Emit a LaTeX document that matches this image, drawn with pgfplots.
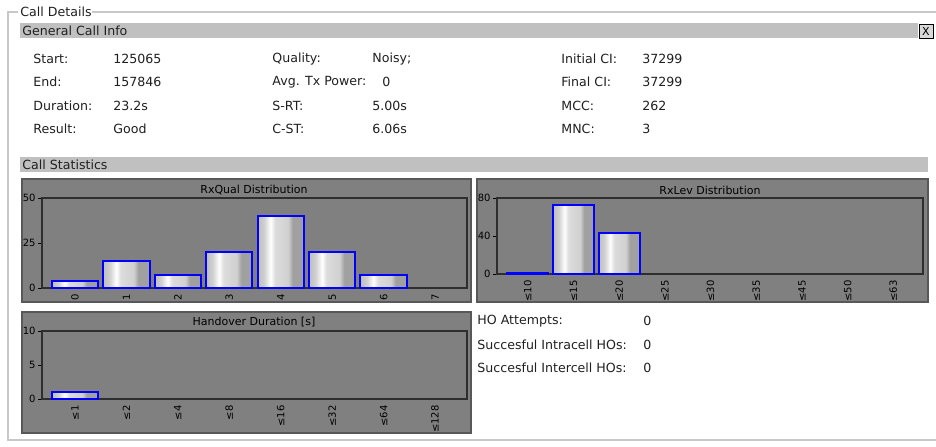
\documentclass[border=0pt]{standalone}
\usepackage{fontspec}
\setmainfont{DejaVu Sans}
\usepackage{pgfplots}
\pgfplotsset{compat=1.18}

\definecolor{panel}{HTML}{808080}
\definecolor{frame}{HTML}{2E2E2E}
\definecolor{hdr}{HTML}{C0C0C0}
\definecolor{grp}{HTML}{C8C8C8}
\definecolor{txt}{HTML}{202020}
\definecolor{b1}{HTML}{BEBEBE}
\definecolor{b2}{HTML}{D0D0D0}
\definecolor{b3}{HTML}{DCDCDC}
\definecolor{b4}{HTML}{A0A0A0}

% shading: the bar maps to 25bp..75bp
\pgfdeclarehorizontalshading{barshade}{100bp}{color(0bp)=(b1); color(25bp)=(b1);
  color(32bp)=(b2); color(39bp)=(white); color(44bp)=(b3); color(58bp)=(b2);
  color(63bp)=(b4); color(75bp)=(b4); color(100bp)=(b4)}

\pgfplotsset{
  panelaxis/.style={
    scale only axis, anchor=south west,
    axis background/.style={fill=panel},
    axis line style={draw=frame, line width=0.8pt},
    ymin=0, tick align=outside, major tick length=2pt,
    xtick style={draw=none},
    ytick style={draw=black, line width=0.4pt},
    tick label style={font=\fontsize{5}{5}\selectfont, text=black},
    xticklabel style={rotate=90, anchor=east, inner sep=1pt},
    yticklabel style={inner sep=1pt},
    /pgf/number format/assume math mode=true,
    ytick pos=left, xtick pos=bottom,
  },
  hbar/.style={ybar, bar shift=0pt, bar width=0.9, draw=blue, line width=1pt,
    shade, shading=barshade},
}

\tikzset{
  ui/.style={anchor=west, inner sep=0pt, font=\fontsize{6.3}{7}\selectfont, text=txt},
  ttl/.style={inner sep=0pt, font=\fontsize{5.5}{6}\selectfont, text=black},
}

\begin{document}
\begin{tikzpicture}
\useasboundingbox (0,0) rectangle (468pt,-223pt);
\fill[white] (0,0) rectangle (468pt,-223pt);

% group box
\draw[grp, line width=0.6pt] (9pt,-6pt) -- (4pt,-6pt) -- (4pt,-220pt) -- (470pt,-220pt);
\draw[grp, line width=0.6pt] (46pt,-6pt) -- (470pt,-6pt);
\node[ui] at (10pt,-6pt) {Call Details};

% General Call Info
\fill[hdr] (10pt,-11.5pt) rectangle (459pt,-19pt);
\node[ui] at (11pt,-15.25pt) {General Call Info};
\draw[black, fill=hdr!60, line width=0.5pt] (459.5pt,-12pt) rectangle (466.5pt,-19pt);
\node[ttl] at (463pt,-15.5pt) {X};

\node[ui] at (16.5pt,-29.5pt) {Start:};
\node[ui] at (56.5pt,-29.5pt) {125065};
\node[ui] at (16.5pt,-41pt) {End:};
\node[ui] at (56.5pt,-41pt) {157846};
\node[ui] at (16.5pt,-53pt) {Duration:};
\node[ui] at (56.5pt,-53pt) {23.2s};
\node[ui] at (16.5pt,-64.5pt) {Result:};
\node[ui] at (56.5pt,-64.5pt) {Good};

\node[ui] at (136pt,-29.5pt) {Quality:};
\node[ui] at (186pt,-29.5pt) {Noisy;};
\node[ui] at (136pt,-41pt) {Avg. Tx Power:};
\node[ui] at (191pt,-41pt) {0};
\node[ui] at (136pt,-53pt) {S-RT:};
\node[ui] at (186pt,-53pt) {5.00s};
\node[ui] at (136pt,-64.5pt) {C-ST:};
\node[ui] at (186pt,-64.5pt) {6.06s};

\node[ui] at (280.5pt,-29.5pt) {Initial CI:};
\node[ui] at (321pt,-29.5pt) {37299};
\node[ui] at (280.5pt,-41pt) {Final CI:};
\node[ui] at (321pt,-41pt) {37299};
\node[ui] at (280.5pt,-53pt) {MCC:};
\node[ui] at (321pt,-53pt) {262};
\node[ui] at (280.5pt,-64.5pt) {MNC:};
\node[ui] at (321pt,-64.5pt) {3};

% Call Statistics
\fill[hdr] (10pt,-78.5pt) rectangle (464pt,-86pt);
\node[ui] at (11pt,-82.25pt) {Call Statistics};

% panels
\draw[fill=panel, draw=frame!80, line width=0.6pt] (11pt,-89.5pt) rectangle (235.5pt,-151pt);
\draw[fill=panel, draw=frame!80, line width=0.6pt] (238.5pt,-89.5pt) rectangle (464pt,-151pt);
\draw[fill=panel, draw=frame!80, line width=0.6pt] (11pt,-156pt) rectangle (235.5pt,-216.5pt);
\node[ttl] at (127pt,-95pt) {RxQual Distribution};
\node[ttl] at (355pt,-95pt) {RxLev Distribution};
\node[ttl] at (127pt,-161pt) {Handover Duration [s]};

% HO counters
\node[ui] at (238.5pt,-160.5pt) {HO Attempts:};
\node[ui] at (321.5pt,-160.5pt) {0};
\node[ui] at (238.5pt,-172.5pt) {Succesful Intracell HOs:};
\node[ui] at (321.5pt,-172.5pt) {0};
\node[ui] at (238.5pt,-184pt) {Succesful Intercell HOs:};
\node[ui] at (321.5pt,-184pt) {0};

% RxQual Distribution
\begin{axis}[panelaxis, at={(21pt,-144pt)}, width=212.5pt, height=45pt,
  xmin=-0.64, xmax=7.62, ymax=50, ytick={0,25,50},
  xtick={0,...,7}, xticklabels={0,1,2,3,4,5,6,7}]
\addplot[hbar] coordinates {(0,4)};
\addplot[hbar] coordinates {(1,15)};
\addplot[hbar] coordinates {(2,7)};
\addplot[hbar] coordinates {(3,20)};
\addplot[hbar] coordinates {(4,40)};
\addplot[hbar] coordinates {(5,20)};
\addplot[hbar] coordinates {(6,7)};
\end{axis}

% RxLev Distribution
\begin{axis}[panelaxis, at={(248.5pt,-137pt)}, width=213pt, height=38pt,
  xmin=-0.675, xmax=8.65, ymax=80, ytick={0,40,80},
  xtick={0,...,8}, xticklabels={≤10,≤15,≤20,≤25,≤30,≤35,≤45,≤50,≤63}]
\addplot[hbar] coordinates {(0,1)};
\addplot[hbar] coordinates {(1,73)};
\addplot[hbar] coordinates {(2,43)};
\end{axis}

% Handover Duration
\begin{axis}[panelaxis, at={(21pt,-199.5pt)}, width=212.5pt, height=34pt,
  xmin=-0.64, xmax=7.62, ymax=10, ytick={0,5,10},
  xtick={0,...,7}, xticklabels={≤1,≤2,≤4,≤8,≤16,≤32,≤64,≤128}]
\addplot[hbar] coordinates {(0,1)};
\end{axis}
\end{tikzpicture}
\end{document}
